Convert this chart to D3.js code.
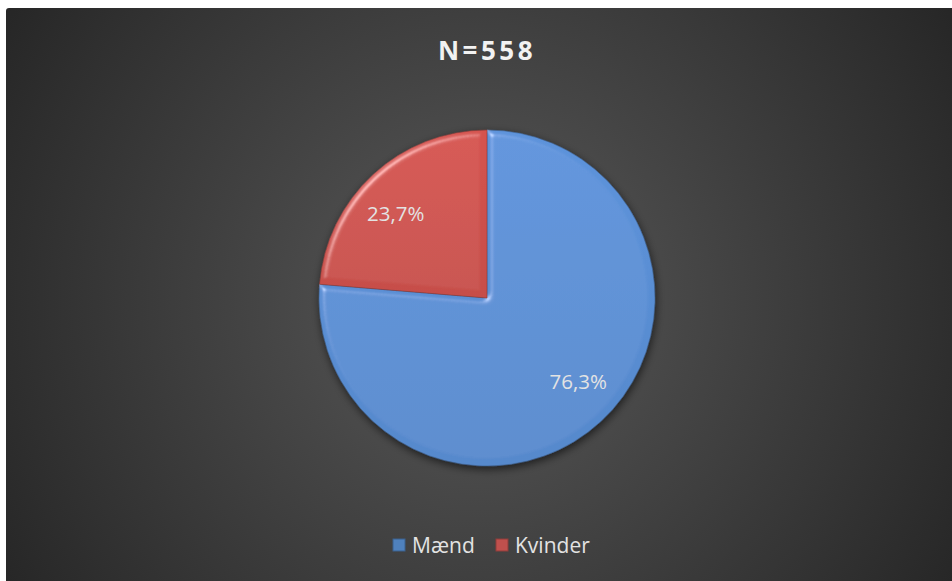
<!DOCTYPE html>
<html>
<head>
<meta charset="utf-8">
<script src="https://cdn.jsdelivr.net/npm/d3@7"></script>
<style>
  html, body { margin: 0; padding: 0; background: #fff; }
  svg { display: block; }
</style>
</head>
<body>
<svg id="chart" width="952" height="581"></svg>
<script>
const categories = ['Mænd', 'Kvinder']
const shares = [76.3, 23.7]
const labels = ['76,3%', '23,7%']
const title = 'N=558'

const colors = ['#5a8fd5', '#cf514c']
const legendColors = ['#4f81bd', '#c0504d']

function drawBackground(svg) {
    const defs = svg.append('defs')
    const bg = defs.append('radialGradient')
        .attr('id', 'bg')
        .attr('gradientUnits', 'userSpaceOnUse')
        .attr('cx', 480).attr('cy', 300).attr('r', 560)
    bg.append('stop').attr('offset', '0%').attr('stop-color', '#595959')
    bg.append('stop').attr('offset', '100%').attr('stop-color', '#262626')

    // soft bevel: highlight on top-left slopes
    const f = defs.append('filter').attr('id', 'bevel')
        .attr('x', '-10%').attr('y', '-10%').attr('width', '120%').attr('height', '120%')
    f.append('feGaussianBlur').attr('in', 'SourceAlpha').attr('stdDeviation', 3).attr('result', 'blur')
    const spec = f.append('feSpecularLighting')
        .attr('in', 'blur').attr('surfaceScale', 5).attr('specularConstant', 0.6)
        .attr('specularExponent', 25).attr('lighting-color', '#ffffff').attr('result', 'spec')
    spec.append('feDistantLight').attr('azimuth', 225).attr('elevation', 35)
    f.append('feComposite').attr('in', 'spec').attr('in2', 'SourceAlpha').attr('operator', 'in').attr('result', 'specOut')
    f.append('feComposite').attr('in', 'SourceGraphic').attr('in2', 'specOut')
        .attr('operator', 'arithmetic').attr('k1', 0).attr('k2', 1).attr('k3', 0.6).attr('k4', 0)

    const sh = defs.append('filter').attr('id', 'shadow')
        .attr('x', '-20%').attr('y', '-20%').attr('width', '140%').attr('height', '140%')
    sh.append('feDropShadow').attr('dx', 1).attr('dy', 3).attr('stdDeviation', 4)
        .attr('flood-color', '#000').attr('flood-opacity', 0.6)

    colors.forEach((c, i) => {
        const g = defs.append('linearGradient').attr('id', `fill${i}`)
            .attr('x1', 0).attr('y1', 0).attr('x2', 0).attr('y2', 1)
        g.append('stop').attr('offset', '0%').attr('stop-color', d3.color(c).brighter(0.08))
        g.append('stop').attr('offset', '100%').attr('stop-color', d3.color(c).darker(0.12))
    })

    svg.append('rect')
        .attr('x', 6).attr('y', 8).attr('width', 952).attr('height', 581)
        .attr('rx', 3)
        .attr('fill', 'url(#bg)')
}

function drawTitle(svg) {
    svg.append('text')
        .attr('x', 487).attr('y', 60)
        .attr('text-anchor', 'middle')
        .attr('font-family', 'Open Sans, sans-serif')
        .attr('font-weight', 'bold')
        .attr('font-size', 26)
        .attr('letter-spacing', 3.5)
        .attr('fill', '#f2f2f2')
        .text(title)
}

function drawPie(svg) {
    const cx = 487, cy = 298, r = 168
    const pie = d3.pie().sort(null)(shares)
    const arc = d3.arc().innerRadius(0).outerRadius(r)
    const g = svg.append('g').attr('transform', `translate(${cx},${cy})`)

    const slices = g.append('g').attr('filter', 'url(#shadow)')
    slices.selectAll('path')
        .data(pie)
        .enter()
        .append('path')
        .attr('d', arc)
        .attr('fill', (d, i) => `url(#fill${i})`)
        .attr('stroke', (d, i) => d3.color(colors[i]).darker(1.2))
        .attr('stroke-opacity', 0.5)
        .attr('stroke-width', 1)
        .attr('filter', 'url(#bevel)')

    // labels sit a little before the slice's mid-angle, like the original
    const labelR = r * 0.74
    const labelPos = d => {
        const a = (d.startAngle + d.endAngle) / 2 - 0.08
        return [labelR * Math.sin(a), -labelR * Math.cos(a)]
    }
    g.selectAll('text.label')
        .data(pie)
        .enter()
        .append('text')
        .attr('class', 'label')
        .attr('x', d => labelPos(d)[0])
        .attr('y', d => labelPos(d)[1] + 7)
        .attr('text-anchor', 'middle')
        .attr('font-family', 'Open Sans, sans-serif')
        .attr('font-size', 20.5)
        .attr('fill', '#e3e3e3')
        .text((d, i) => labels[i])
}

function drawLegend(svg) {
    const x = d3.scaleOrdinal().domain(categories).range([393, 496])
    const items = svg.selectAll('g.legend')
        .data(categories)
        .enter()
        .append('g')
        .attr('class', 'legend')
        .attr('transform', d => `translate(${x(d)},539)`)
    items.append('rect')
        .attr('width', 12).attr('height', 12)
        .attr('fill', (d, i) => legendColors[i])
        .attr('stroke', (d, i) => d3.color(legendColors[i]).darker(0.8))
        .attr('stroke-width', 1)
    items.append('text')
        .attr('x', 19).attr('y', 14)
        .attr('font-family', 'Open Sans, sans-serif')
        .attr('font-size', 21)
        .attr('fill', '#e3e3e3')
        .text(d => d)
}

function main() {
    const svg = d3.select('#chart')
    drawBackground(svg)
    drawTitle(svg)
    drawPie(svg)
    drawLegend(svg)
}

main()
</script>
</body>
</html>
